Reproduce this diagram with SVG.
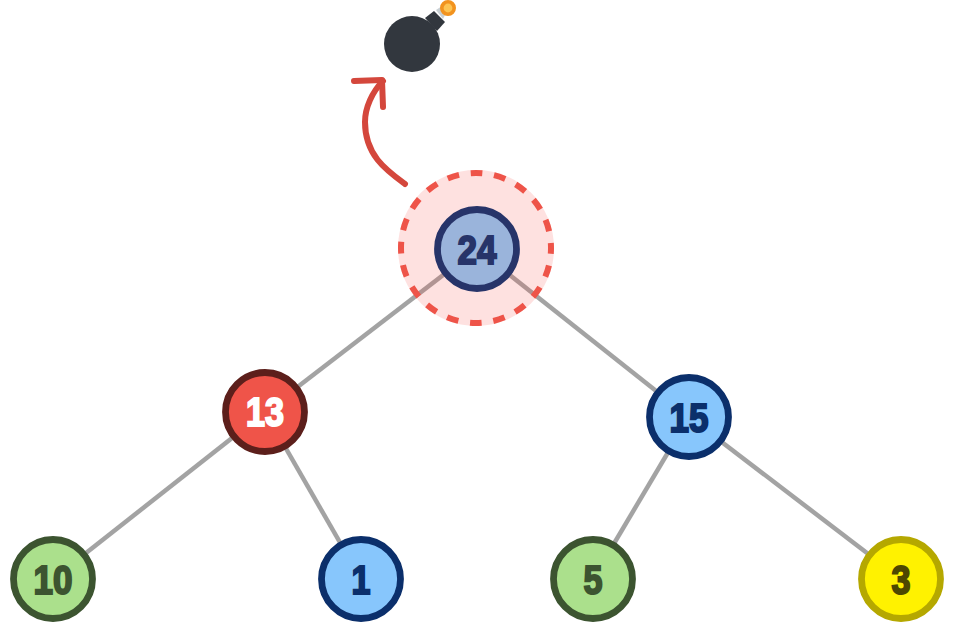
<svg xmlns="http://www.w3.org/2000/svg" width="954" height="622" viewBox="0 0 954 622">
<style>
.c{stroke-width:6.8}
.t{font-family:"Liberation Sans",Arial,sans-serif;font-weight:700;font-size:40px;text-anchor:middle;stroke-width:2;paint-order:stroke}
line{stroke:#a3a3a3;stroke-width:4.5}
</style>
<rect width="954" height="622" fill="#fff"/>
<g id="connectors">
<line x1="477" y1="249" x2="265" y2="412"/>
<line x1="477" y1="249" x2="689" y2="417"/>
<line x1="265" y1="412" x2="53" y2="579"/>
<line x1="265" y1="412" x2="361" y2="579"/>
<line x1="689" y1="417" x2="593" y2="579"/>
<line x1="689" y1="417" x2="901" y2="579"/>
</g>
<g id="highlight">
<circle cx="476" cy="248" r="78" fill="#f9504a" fill-opacity=".17"/>
<circle cx="476" cy="248" r="75" fill="none" stroke="#ee5449" stroke-width="6" stroke-dasharray="11.78 11.78" stroke-dashoffset="5.89"/>
</g>
<g id="bomb">
<path d="M436 10 L442 6 L447 11 L443 19 Z" fill="#c9d0d4"/>
<path d="M425 18 L434 11 L445 22 L437 31 Z" fill="#32373e"/>
<circle cx="412" cy="44" r="28" fill="#32373e"/>
<circle cx="448" cy="8" r="6.2" fill="#fdc453" stroke="#f2931f" stroke-width="3.6"/>
</g>
<g id="arrow" fill="none" stroke="#d4473c" stroke-width="6" stroke-linecap="round" stroke-linejoin="round">
<path d="M405 184 C386 170 365 155 365 122 C365 108 372 92 383 81"/>
<path d="M354 81 L382 80 L383 107"/>
</g>
<g id="n24"><circle class="c" cx="477" cy="249" r="39.5" fill="#9ab4db" stroke="#273469"/><text class="t" x="477" y="264" textLength="39" lengthAdjust="spacingAndGlyphs" fill="#273469" stroke="#273469">24</text></g>
<g id="n13"><circle class="c" cx="265" cy="412" r="39.5" fill="#ef5449" stroke="#5c1f1b"/><text class="t" x="265" y="426" textLength="38" lengthAdjust="spacingAndGlyphs" fill="#fff" stroke="#fff">13</text></g>
<g id="n15"><circle class="c" cx="689" cy="417" r="39.5" fill="#87c6fc" stroke="#0b2f6b"/><text class="t" x="689" y="432" textLength="39" lengthAdjust="spacingAndGlyphs" fill="#0b2f6b" stroke="#0b2f6b">15</text></g>
<g id="n10"><circle class="c" cx="53" cy="579" r="39.5" fill="#abe08c" stroke="#3c5430"/><text class="t" x="53" y="594" textLength="39" lengthAdjust="spacingAndGlyphs" fill="#3c5430" stroke="#3c5430">10</text></g>
<g id="n1"><circle class="c" cx="361" cy="579" r="39.5" fill="#87c6fc" stroke="#0b2f6b"/><text class="t" x="361" y="594" textLength="19" lengthAdjust="spacingAndGlyphs" fill="#0b2f6b" stroke="#0b2f6b">1</text></g>
<g id="n5"><circle class="c" cx="593" cy="579" r="39.5" fill="#abe08c" stroke="#3c5430"/><text class="t" x="593" y="594" textLength="19" lengthAdjust="spacingAndGlyphs" fill="#3c5430" stroke="#3c5430">5</text></g>
<g id="n3"><circle class="c" cx="901" cy="579" r="39.5" fill="#fff200" stroke="#b5a800"/><text class="t" x="901" y="594" textLength="19" lengthAdjust="spacingAndGlyphs" fill="#4d4800" stroke="#4d4800">3</text></g>
</svg>
